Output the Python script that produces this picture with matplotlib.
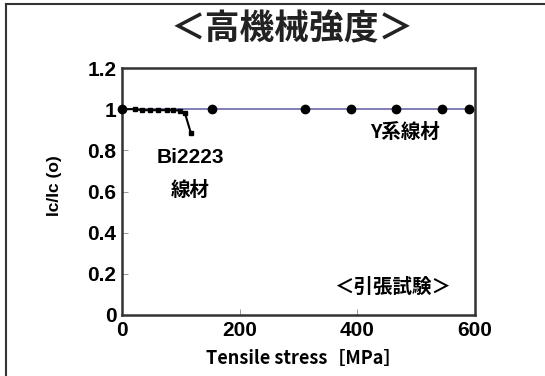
import matplotlib
matplotlib.use("Agg")
import matplotlib.pyplot as plt
from matplotlib.lines import Line2D

plt.rcParams['font.family'] = ['Liberation Sans', 'Noto Sans CJK JP', 'DejaVu Sans']

# Data
y_stress = [0, 153, 311, 389, 466, 544, 590]
y_ic = [1.0, 1.0, 1.0, 1.0, 1.0, 1.0, 1.0]
bi_stress = [0, 22, 34, 48, 61, 76, 87, 99, 107, 117]
bi_ic = [1.0, 1.0, 0.995, 0.995, 0.995, 0.995, 0.995, 0.993, 0.98, 0.885]
xticks = [0, 200, 400, 600]
yticks = [0, 0.2, 0.4, 0.6, 0.8, 1.0, 1.2]
ytick_labels = ['0', '0.2', '0.4', '0.6', '0.8', '1', '1.2']

W, H = 545, 376
fig = plt.figure(figsize=(W / 100, H / 100), dpi=100)
fig.patch.set_facecolor('white')

# outer frame (left and top edges visible)
fig.add_artist(Line2D([6 / W, 6 / W], [0, 1 - 4 / H], transform=fig.transFigure, color='#333333', lw=1.5))
fig.add_artist(Line2D([6 / W, 1], [1 - 4 / H, 1 - 4 / H], transform=fig.transFigure, color='#333333', lw=1.5))

left, right, top, bottom = 122, 475, 68, 315
ax = fig.add_axes([left / W, 1 - bottom / H, (right - left) / W, (bottom - top) / H])
ax.set_xlim(0, 600)
ax.set_ylim(0, 1.2)

ax.plot(y_stress, y_ic, color='#6a6aaa', lw=1.2, marker='o', ms=6, mfc='black', mec='black', zorder=3, clip_on=False)
ax.plot(bi_stress, bi_ic, color='black', lw=1.5, marker='s', ms=3.3, mfc='black', mec='black', zorder=4, clip_on=False)

ax.set_xticks(xticks)
ax.set_xticklabels([str(v) for v in xticks], fontsize=15, fontweight='bold')
ax.set_yticks(yticks)
ax.set_yticklabels(ytick_labels, fontsize=15, fontweight='bold')
ax.tick_params(direction='in', length=4, width=0.6, color='#888888', pad=4)
for s in ax.spines.values():
    s.set_linewidth(1.8)
    s.set_color('#333333')

ax.set_xlabel('Tensile stress［MPa］', fontsize=13, fontweight='bold',
              family=['Noto Sans CJK JP', 'Liberation Sans'])
ax.xaxis.set_label_coords((304 - left) / (right - left), -(349 - bottom) / (bottom - top))
ax.set_ylabel('Ic/Ic (o)', fontsize=12.5, fontweight='bold')
ax.yaxis.set_label_coords(-(left - 62) / (right - left), (bottom - 186) / (bottom - top))

ax.text(116, 0.765, 'Bi2223', ha='center', va='center', fontsize=15, fontweight='bold')
ax.text(116, 0.607, '線材', ha='center', va='center', fontsize=14, fontweight='bold',
        family=['Noto Sans CJK JP'])
ax.text(481, 0.889, 'Y系線材', ha='center', va='center', fontsize=14, fontweight='bold',
        family=['Noto Sans CJK JP'])
ax.text(459, 0.136, '＜引張試験＞', ha='center', va='center', fontsize=14, fontweight='bold',
        style='italic', family=['Noto Sans CJK JP'])

fig.text(292 / W, 1 - 29 / H, '＜高機械強度＞', ha='center', va='center', fontsize=25,
         fontweight='bold', family=['Noto Sans CJK JP'], color='#222222')

fig.savefig('out.png', dpi=100)
